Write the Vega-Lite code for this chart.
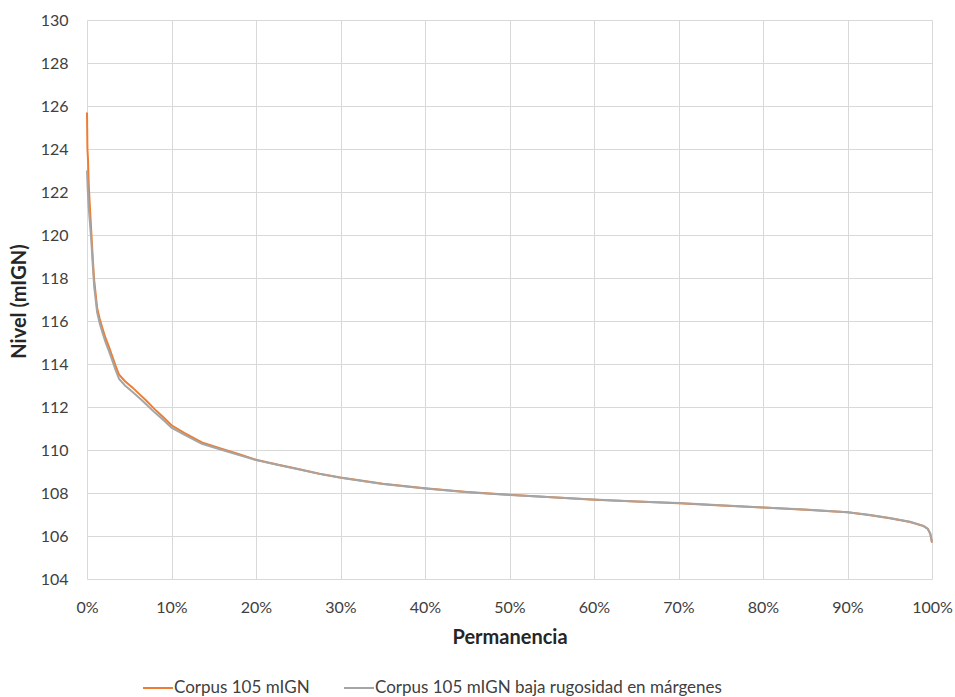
{
  "$schema": "https://vega.github.io/schema/vega-lite/v6.json",
  "autosize": "none",
  "width": 845,
  "height": 559,
  "padding": {"left": 87, "top": 20, "right": 23, "bottom": 118},
  "background": "white",
  "config": {
    "font": "Lato",
    "view": {"stroke": null},
    "axis": {
      "grid": true,
      "gridColor": "#D9D9D9",
      "gridWidth": 1,
      "domain": false,
      "ticks": false,
      "labelFont": "Lato",
      "labelFontSize": 16,
      "labelColor": "#404040",
      "labelFlush": false,
      "labelOverlap": false,
      "titleFont": "Lato",
      "titleFontSize": 20,
      "titleFontWeight": "bold",
      "titleColor": "#262626"
    }
  },
  "data": {
    "values": [
      {"p": 0, "nivel": 125.7, "serie": "Corpus 105 mIGN"},
      {"p": 0.05, "nivel": 124.0, "serie": "Corpus 105 mIGN"},
      {"p": 0.12, "nivel": 123.5, "serie": "Corpus 105 mIGN"},
      {"p": 0.2, "nivel": 122.4, "serie": "Corpus 105 mIGN"},
      {"p": 0.3, "nivel": 121.6, "serie": "Corpus 105 mIGN"},
      {"p": 0.4, "nivel": 120.9, "serie": "Corpus 105 mIGN"},
      {"p": 0.5, "nivel": 120.2, "serie": "Corpus 105 mIGN"},
      {"p": 0.7, "nivel": 118.8, "serie": "Corpus 105 mIGN"},
      {"p": 0.85, "nivel": 117.9, "serie": "Corpus 105 mIGN"},
      {"p": 1.2, "nivel": 116.6, "serie": "Corpus 105 mIGN"},
      {"p": 1.5, "nivel": 116.1, "serie": "Corpus 105 mIGN"},
      {"p": 1.8, "nivel": 115.7, "serie": "Corpus 105 mIGN"},
      {"p": 2.2, "nivel": 115.2, "serie": "Corpus 105 mIGN"},
      {"p": 2.6, "nivel": 114.8, "serie": "Corpus 105 mIGN"},
      {"p": 3.0, "nivel": 114.35, "serie": "Corpus 105 mIGN"},
      {"p": 3.4, "nivel": 113.9, "serie": "Corpus 105 mIGN"},
      {"p": 3.8, "nivel": 113.5, "serie": "Corpus 105 mIGN"},
      {"p": 4.5, "nivel": 113.2, "serie": "Corpus 105 mIGN"},
      {"p": 5.4, "nivel": 112.9, "serie": "Corpus 105 mIGN"},
      {"p": 6.2, "nivel": 112.6, "serie": "Corpus 105 mIGN"},
      {"p": 7.0, "nivel": 112.3, "serie": "Corpus 105 mIGN"},
      {"p": 8.0, "nivel": 111.9, "serie": "Corpus 105 mIGN"},
      {"p": 9.1, "nivel": 111.5, "serie": "Corpus 105 mIGN"},
      {"p": 10, "nivel": 111.15, "serie": "Corpus 105 mIGN"},
      {"p": 11.5, "nivel": 110.8, "serie": "Corpus 105 mIGN"},
      {"p": 13.6, "nivel": 110.35, "serie": "Corpus 105 mIGN"},
      {"p": 16, "nivel": 110.05, "serie": "Corpus 105 mIGN"},
      {"p": 18, "nivel": 109.8, "serie": "Corpus 105 mIGN"},
      {"p": 20, "nivel": 109.55, "serie": "Corpus 105 mIGN"},
      {"p": 22.5, "nivel": 109.33, "serie": "Corpus 105 mIGN"},
      {"p": 25, "nivel": 109.12, "serie": "Corpus 105 mIGN"},
      {"p": 27.5, "nivel": 108.9, "serie": "Corpus 105 mIGN"},
      {"p": 30, "nivel": 108.72, "serie": "Corpus 105 mIGN"},
      {"p": 35, "nivel": 108.43, "serie": "Corpus 105 mIGN"},
      {"p": 40, "nivel": 108.22, "serie": "Corpus 105 mIGN"},
      {"p": 45, "nivel": 108.05, "serie": "Corpus 105 mIGN"},
      {"p": 50, "nivel": 107.92, "serie": "Corpus 105 mIGN"},
      {"p": 55, "nivel": 107.8, "serie": "Corpus 105 mIGN"},
      {"p": 60, "nivel": 107.69, "serie": "Corpus 105 mIGN"},
      {"p": 65, "nivel": 107.6, "serie": "Corpus 105 mIGN"},
      {"p": 70, "nivel": 107.52, "serie": "Corpus 105 mIGN"},
      {"p": 75, "nivel": 107.42, "serie": "Corpus 105 mIGN"},
      {"p": 80, "nivel": 107.32, "serie": "Corpus 105 mIGN"},
      {"p": 85, "nivel": 107.22, "serie": "Corpus 105 mIGN"},
      {"p": 90, "nivel": 107.1, "serie": "Corpus 105 mIGN"},
      {"p": 92.5, "nivel": 106.98, "serie": "Corpus 105 mIGN"},
      {"p": 95, "nivel": 106.83, "serie": "Corpus 105 mIGN"},
      {"p": 97.4, "nivel": 106.65, "serie": "Corpus 105 mIGN"},
      {"p": 99, "nivel": 106.46, "serie": "Corpus 105 mIGN"},
      {"p": 99.5, "nivel": 106.33, "serie": "Corpus 105 mIGN"},
      {"p": 99.8, "nivel": 106.1, "serie": "Corpus 105 mIGN"},
      {"p": 100, "nivel": 105.7, "serie": "Corpus 105 mIGN"},

      {"p": 0, "nivel": 123.0, "serie": "Corpus 105 mIGN baja rugosidad en márgenes"},
      {"p": 0.1, "nivel": 122.0, "serie": "Corpus 105 mIGN baja rugosidad en márgenes"},
      {"p": 0.2, "nivel": 121.3, "serie": "Corpus 105 mIGN baja rugosidad en márgenes"},
      {"p": 0.3, "nivel": 120.8, "serie": "Corpus 105 mIGN baja rugosidad en márgenes"},
      {"p": 0.4, "nivel": 120.3, "serie": "Corpus 105 mIGN baja rugosidad en márgenes"},
      {"p": 0.5, "nivel": 119.8, "serie": "Corpus 105 mIGN baja rugosidad en márgenes"},
      {"p": 0.7, "nivel": 118.5, "serie": "Corpus 105 mIGN baja rugosidad en márgenes"},
      {"p": 0.85, "nivel": 117.6, "serie": "Corpus 105 mIGN baja rugosidad en márgenes"},
      {"p": 1.2, "nivel": 116.4, "serie": "Corpus 105 mIGN baja rugosidad en márgenes"},
      {"p": 1.5, "nivel": 115.9, "serie": "Corpus 105 mIGN baja rugosidad en márgenes"},
      {"p": 1.8, "nivel": 115.5, "serie": "Corpus 105 mIGN baja rugosidad en márgenes"},
      {"p": 2.2, "nivel": 115.0, "serie": "Corpus 105 mIGN baja rugosidad en márgenes"},
      {"p": 2.6, "nivel": 114.6, "serie": "Corpus 105 mIGN baja rugosidad en márgenes"},
      {"p": 3.0, "nivel": 114.15, "serie": "Corpus 105 mIGN baja rugosidad en márgenes"},
      {"p": 3.4, "nivel": 113.7, "serie": "Corpus 105 mIGN baja rugosidad en márgenes"},
      {"p": 3.8, "nivel": 113.3, "serie": "Corpus 105 mIGN baja rugosidad en márgenes"},
      {"p": 4.5, "nivel": 113.0, "serie": "Corpus 105 mIGN baja rugosidad en márgenes"},
      {"p": 5.4, "nivel": 112.7, "serie": "Corpus 105 mIGN baja rugosidad en márgenes"},
      {"p": 6.2, "nivel": 112.42, "serie": "Corpus 105 mIGN baja rugosidad en márgenes"},
      {"p": 7.0, "nivel": 112.13, "serie": "Corpus 105 mIGN baja rugosidad en márgenes"},
      {"p": 8.0, "nivel": 111.75, "serie": "Corpus 105 mIGN baja rugosidad en márgenes"},
      {"p": 9.1, "nivel": 111.37, "serie": "Corpus 105 mIGN baja rugosidad en márgenes"},
      {"p": 10, "nivel": 111.04, "serie": "Corpus 105 mIGN baja rugosidad en márgenes"},
      {"p": 11.5, "nivel": 110.72, "serie": "Corpus 105 mIGN baja rugosidad en márgenes"},
      {"p": 13.6, "nivel": 110.29, "serie": "Corpus 105 mIGN baja rugosidad en márgenes"},
      {"p": 16, "nivel": 110.0, "serie": "Corpus 105 mIGN baja rugosidad en márgenes"},
      {"p": 18, "nivel": 109.76, "serie": "Corpus 105 mIGN baja rugosidad en márgenes"},
      {"p": 20, "nivel": 109.53, "serie": "Corpus 105 mIGN baja rugosidad en márgenes"},
      {"p": 22.5, "nivel": 109.31, "serie": "Corpus 105 mIGN baja rugosidad en márgenes"},
      {"p": 25, "nivel": 109.1, "serie": "Corpus 105 mIGN baja rugosidad en márgenes"},
      {"p": 27.5, "nivel": 108.89, "serie": "Corpus 105 mIGN baja rugosidad en márgenes"},
      {"p": 30, "nivel": 108.71, "serie": "Corpus 105 mIGN baja rugosidad en márgenes"},
      {"p": 35, "nivel": 108.42, "serie": "Corpus 105 mIGN baja rugosidad en márgenes"},
      {"p": 40, "nivel": 108.21, "serie": "Corpus 105 mIGN baja rugosidad en márgenes"},
      {"p": 45, "nivel": 108.04, "serie": "Corpus 105 mIGN baja rugosidad en márgenes"},
      {"p": 50, "nivel": 107.91, "serie": "Corpus 105 mIGN baja rugosidad en márgenes"},
      {"p": 55, "nivel": 107.8, "serie": "Corpus 105 mIGN baja rugosidad en márgenes"},
      {"p": 60, "nivel": 107.7, "serie": "Corpus 105 mIGN baja rugosidad en márgenes"},
      {"p": 65, "nivel": 107.61, "serie": "Corpus 105 mIGN baja rugosidad en márgenes"},
      {"p": 70, "nivel": 107.53, "serie": "Corpus 105 mIGN baja rugosidad en márgenes"},
      {"p": 75, "nivel": 107.43, "serie": "Corpus 105 mIGN baja rugosidad en márgenes"},
      {"p": 80, "nivel": 107.33, "serie": "Corpus 105 mIGN baja rugosidad en márgenes"},
      {"p": 85, "nivel": 107.23, "serie": "Corpus 105 mIGN baja rugosidad en márgenes"},
      {"p": 90, "nivel": 107.11, "serie": "Corpus 105 mIGN baja rugosidad en márgenes"},
      {"p": 92.5, "nivel": 106.99, "serie": "Corpus 105 mIGN baja rugosidad en márgenes"},
      {"p": 95, "nivel": 106.84, "serie": "Corpus 105 mIGN baja rugosidad en márgenes"},
      {"p": 97.4, "nivel": 106.66, "serie": "Corpus 105 mIGN baja rugosidad en márgenes"},
      {"p": 99, "nivel": 106.47, "serie": "Corpus 105 mIGN baja rugosidad en márgenes"},
      {"p": 99.5, "nivel": 106.34, "serie": "Corpus 105 mIGN baja rugosidad en márgenes"},
      {"p": 99.8, "nivel": 106.1, "serie": "Corpus 105 mIGN baja rugosidad en márgenes"},
      {"p": 100, "nivel": 105.7, "serie": "Corpus 105 mIGN baja rugosidad en márgenes"}
    ]
  },
  "mark": {"type": "line", "strokeWidth": 2},
  "encoding": {
    "x": {
      "field": "p",
      "type": "quantitative",
      "scale": {"domain": [0, 100], "nice": false},
      "axis": {
        "title": "Permanencia",
        "values": [0, 10, 20, 30, 40, 50, 60, 70, 80, 90, 100],
        "labelExpr": "datum.value + '%'",
        "labelPadding": 20,
        "titleY": 58,
        "titleBaseline": "middle"
      }
    },
    "y": {
      "field": "nivel",
      "type": "quantitative",
      "scale": {"domain": [104, 130], "nice": false, "zero": false},
      "axis": {
        "title": "Nivel (mIGN)",
        "values": [104, 106, 108, 110, 112, 114, 116, 118, 120, 122, 124, 126, 128, 130],
        "labelPadding": 19,
        "titleX": -68,
        "titleY": 281,
        "titleAngle": 270,
        "titleAlign": "center",
        "titleBaseline": "middle"
      }
    },
    "color": {
      "field": "serie",
      "type": "nominal",
      "scale": {
        "domain": ["Corpus 105 mIGN", "Corpus 105 mIGN baja rugosidad en márgenes"],
        "range": ["#ED7D31", "#A5A5A5"]
      },
      "legend": {
        "title": null,
        "orient": "none",
        "direction": "horizontal",
        "legendX": 55,
        "legendY": 652,
        "symbolType": "stroke",
        "symbolSize": 900,
        "symbolStrokeWidth": 2,
        "labelFont": "Lato",
        "labelFontSize": 17,
        "labelColor": "#404040",
        "labelOffset": 0,
        "labelLimit": 0,
        "columnPadding": 30
      }
    }
  }
}
